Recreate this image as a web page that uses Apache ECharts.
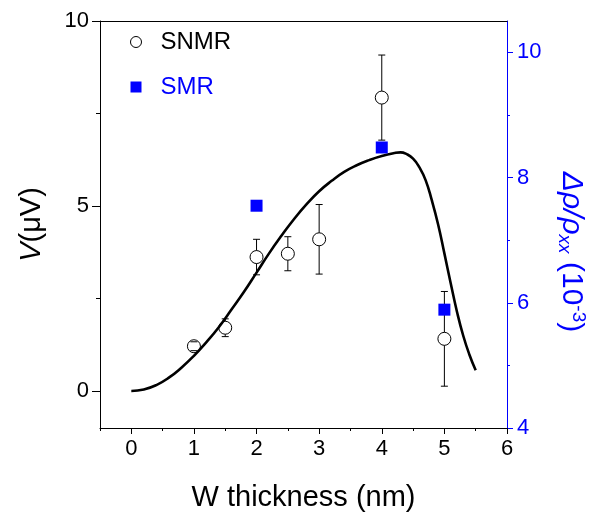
<!DOCTYPE html>
<html>
<head>
<meta charset="utf-8">
<script src="https://cdn.jsdelivr.net/npm/echarts@6/dist/echarts.min.js"></script>
<style>html,body{margin:0;padding:0;background:#fff}#c{width:607px;height:523px}</style>
</head>
<body>
<div id="c"></div>
<script>
// ---- data ----
var snmrX = [1, 1.5, 2, 2.5, 3, 4, 5];
var snmrY = [1.21, 1.71, 3.62, 3.71, 4.10, 7.93, 1.41];
var snmrErr = [0.12, 0.24, 0.48, 0.46, 0.94, 1.15, 1.28];

var smrX = [2, 4, 5];
var smrY = [7.55, 8.48, 5.89];

var fitX = [0, 0.2, 0.4, 0.6, 0.8, 1.0, 1.2, 1.4, 1.6, 1.8, 2.0, 2.2, 2.4, 2.6, 2.8, 3.0, 3.2, 3.4, 3.6, 3.8, 4.0, 4.2, 4.3, 4.4, 4.5, 4.6, 4.7, 4.8, 4.9, 5.0, 5.1, 5.2, 5.3, 5.4, 5.5];
var fitY = [0, 0.04, 0.16, 0.36, 0.63, 0.95, 1.32, 1.73, 2.2, 2.68, 3.2, 3.72, 4.2, 4.65, 5.05, 5.4, 5.68, 5.92, 6.1, 6.24, 6.35, 6.43, 6.45, 6.40, 6.28, 6.05, 5.7, 5.15, 4.5, 3.72, 2.92, 2.15, 1.5, 0.98, 0.56];

var xTicks = [0, 1, 2, 3, 4, 5, 6];
var xMinorTicks = [-0.5, 0.5, 1.5, 2.5, 3.5, 4.5, 5.5];
var yLeftTicks = [0, 5, 10];
var yLeftMinor = [2.5, 7.5];
var yRightTicks = [4, 6, 8, 10];
var yRightMinor = [5, 7, 9];

var BLUE = '#0000ff';
var FONT = "'Liberation Sans', Arial, sans-serif";

var snmrData = snmrX.map(function (x, i) { return [x, snmrY[i]]; });
var errData = snmrX.map(function (x, i) { return [x, snmrY[i], snmrErr[i]]; });
var smrData = smrX.map(function (x, i) { return [x, smrY[i]]; });
var fitData = fitX.map(function (x, i) { return [x, fitY[i]]; });

var chart = echarts.init(document.getElementById('c'), null, {renderer: 'canvas'});
var R = 6.5;
var option = {
  animation: false,
  backgroundColor: '#fff',
  textStyle: {fontFamily: FONT},
  grid: {left: 100, right: 100, top: 21, bottom: 95, containLabel: false},
  legend: {
    orient: 'vertical', left: 130, top: 29, itemGap: 19, padding: 0,
    itemWidth: 11, itemHeight: 11,
    textStyle: {fontSize: 24, fontFamily: FONT, lineHeight: 26, padding: [0, 0, 0, 14]},
    data: [
      {name: 'SNMR', icon: 'circle', itemStyle: {color: '#fff', borderColor: '#000', borderWidth: 1, opacity: 1}, textStyle: {color: '#000'}},
      {name: 'SMR', icon: 'rect', itemStyle: {color: BLUE, opacity: 1}, textStyle: {color: BLUE}}
    ]
  },
  xAxis: [
    {
      type: 'value', position: 'bottom', min: -0.5, max: 6, interval: 0.5,
      splitLine: {show: false},
      axisLine: {show: true, onZero: false, lineStyle: {color: '#000', width: 1}},
      axisTick: {show: true, customValues: xTicks, length: 6, lineStyle: {color: '#000'}},
      axisLabel: {customValues: xTicks, fontSize: 22, color: '#000', margin: 10, fontFamily: FONT},
      name: 'W thickness (nm)', nameLocation: 'middle', nameGap: 55,
      nameTextStyle: {fontSize: 29, color: '#000', fontFamily: FONT}
    },
    {
      type: 'value', position: 'bottom', min: -0.5, max: 6, interval: 0.5,
      splitLine: {show: false},
      axisLine: {show: false, onZero: false},
      axisTick: {show: true, customValues: xMinorTicks, length: 3, lineStyle: {color: '#000'}},
      axisLabel: {show: false}
    },
    {
      type: 'value', position: 'top', min: -0.5, max: 6, interval: 0.5,
      splitLine: {show: false},
      axisLine: {show: true, onZero: false, lineStyle: {color: '#000', width: 1}},
      axisTick: {show: false}, axisLabel: {show: false}
    }
  ],
  yAxis: [
    {
      type: 'value', position: 'left', min: -1, max: 10, interval: 0.5,
      splitLine: {show: false},
      axisLine: {show: true, onZero: false, lineStyle: {color: '#000', width: 1}},
      axisTick: {show: true, customValues: yLeftTicks, length: 8, lineStyle: {color: '#000'}},
      axisLabel: {customValues: yLeftTicks, fontSize: 22, color: '#000', margin: 11, fontFamily: FONT},
      name: '{i|V}(μV)', nameLocation: 'middle', nameGap: 54, nameRotate: 90,
      nameTextStyle: {fontSize: 29, color: '#000', fontFamily: FONT,
        rich: {i: {fontSize: 29, fontStyle: 'italic', fontFamily: FONT, color: '#000'}}}
    },
    {
      type: 'value', position: 'left', min: -1, max: 10, interval: 0.5,
      splitLine: {show: false},
      axisLine: {show: false, onZero: false},
      axisTick: {show: true, customValues: yLeftMinor, length: 4, lineStyle: {color: '#000'}},
      axisLabel: {show: false}
    },
    {
      type: 'value', position: 'right', min: 4, max: 10.5, interval: 0.5,
      splitLine: {show: false},
      axisLine: {show: true, onZero: false, lineStyle: {color: BLUE, width: 1}},
      axisTick: {show: true, customValues: yRightTicks, length: 6, lineStyle: {color: BLUE}},
      axisLabel: {customValues: yRightTicks, fontSize: 22, color: BLUE, margin: 10, fontFamily: FONT}
    },
    {
      type: 'value', position: 'right', min: 4, max: 10.5, interval: 0.5,
      splitLine: {show: false},
      axisLine: {show: false, onZero: false},
      axisTick: {show: true, customValues: yRightMinor, length: 3, lineStyle: {color: BLUE}},
      axisLabel: {show: false}
    }
  ],
  graphic: [
    {
      type: 'text', x: 571, y: 252, rotation: -Math.PI / 2,
      style: {
        text: '{i|Δρ/ρ}{s|xx} (10{p|-3})',
        fill: BLUE, fontSize: 30, fontFamily: FONT, align: 'center', verticalAlign: 'middle',
        rich: {
          i: {fontSize: 30, fontStyle: 'italic', fill: BLUE, fontFamily: FONT, verticalAlign: 'middle'},
          s: {fontSize: 19, fontStyle: 'italic', fill: BLUE, fontFamily: FONT, verticalAlign: 'bottom', padding: [14, 0, 0, 0]},
          p: {fontSize: 19, fill: BLUE, fontFamily: FONT, verticalAlign: 'top', padding: [0, 0, 10, 0]}
        }
      }
    }
  ],
  series: [
    {
      type: 'custom', name: 'err', xAxisIndex: 0, yAxisIndex: 0, z: 2,
      data: errData,
      renderItem: function (params, api) {
        var x = api.value(0), y = api.value(1), e = api.value(2);
        var c = api.coord([x, y]);
        var top = api.coord([x, y + e]);
        var bot = api.coord([x, y - e]);
        var cap = 3.5;
        var st = {stroke: '#000', lineWidth: 1};
        var children = [
          {type: 'line', shape: {x1: top[0] - cap, y1: top[1], x2: top[0] + cap, y2: top[1]}, style: st},
          {type: 'line', shape: {x1: bot[0] - cap, y1: bot[1], x2: bot[0] + cap, y2: bot[1]}, style: st}
        ];
        if (c[1] - top[1] > R) {
          children.push({type: 'line', shape: {x1: c[0], y1: top[1], x2: c[0], y2: c[1] - R}, style: st});
        }
        if (bot[1] - c[1] > R) {
          children.push({type: 'line', shape: {x1: c[0], y1: c[1] + R, x2: c[0], y2: bot[1]}, style: st});
        }
        return {type: 'group', children: children};
      }
    },
    {
      type: 'scatter', name: 'SNMR', xAxisIndex: 0, yAxisIndex: 0, z: 3,
      symbol: 'circle', symbolSize: 13,
      itemStyle: {color: 'rgba(255,255,255,0)', borderColor: '#000', borderWidth: 1, opacity: 1},
      data: snmrData
    },
    {
      type: 'line', name: 'fit', xAxisIndex: 0, yAxisIndex: 0, z: 4,
      showSymbol: false, symbol: 'none', smooth: 0.5,
      lineStyle: {color: '#000', width: 2.6},
      data: fitData
    },
    {
      type: 'scatter', name: 'SMR', xAxisIndex: 0, yAxisIndex: 2, z: 5,
      symbol: 'rect', symbolSize: 12,
      itemStyle: {color: BLUE, opacity: 1},
      data: smrData
    }
  ]
};
chart.setOption(option);
</script>
</body>
</html>
